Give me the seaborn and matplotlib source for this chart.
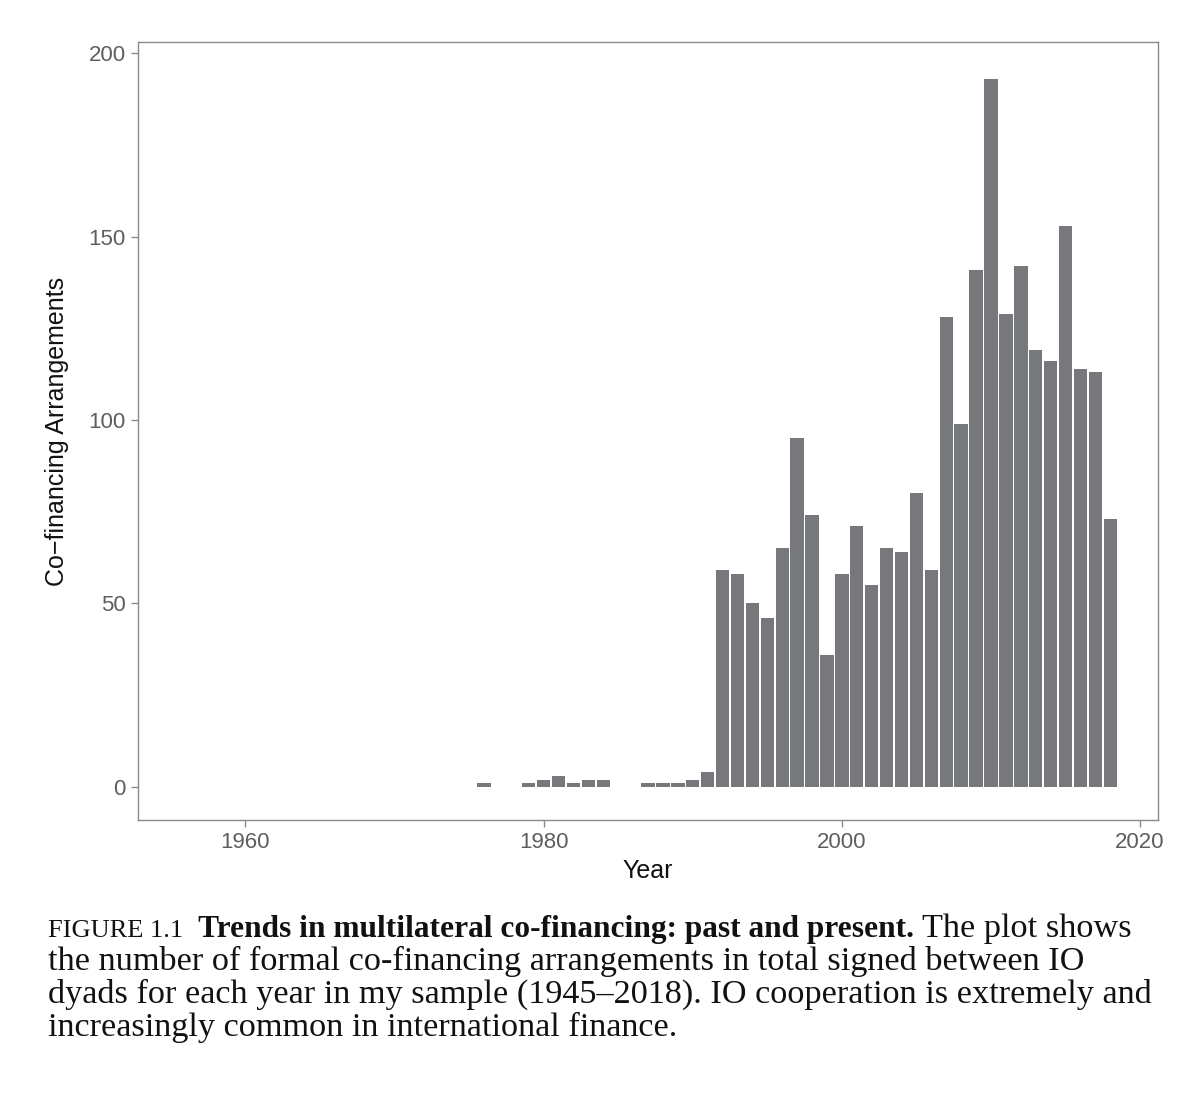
import matplotlib
matplotlib.use("Agg")
import matplotlib.pyplot as plt
import seaborn as sns
import pandas as pd

# Co-financing arrangements per year
years = [1976, 1979, 1980, 1981, 1982, 1983, 1984, 1987, 1988, 1989, 1990, 1991,
         1992, 1993, 1994, 1995, 1996, 1997, 1998, 1999, 2000, 2001, 2002, 2003,
         2004, 2005, 2006, 2007, 2008, 2009, 2010, 2011, 2012, 2013, 2014, 2015,
         2016, 2017, 2018]
counts = [1, 1, 2, 3, 1, 2, 2, 1, 1, 1, 2, 4,
          59, 58, 50, 46, 65, 95, 74, 36, 58, 71, 55, 65,
          64, 80, 59, 128, 99, 141, 193, 129, 142, 119, 116, 153,
          114, 113, 73]
x_ticks = [1960, 1980, 2000, 2020]
y_ticks = [0, 50, 100, 150, 200]

caption_lines = [
    "the number of formal co-financing arrangements in total signed between IO",
    "dyads for each year in my sample (1945\u20132018). IO cooperation is extremely and",
    "increasingly common in international finance.",
]

df = pd.DataFrame({"Year": years, "Count": counts})

BAR = "#77787b"
FRAME = "#8a8a8a"
TICKTXT = "#5e5e5e"

sns.set_style("white")
plt.rcParams["font.family"] = ["Liberation Sans", "DejaVu Sans"]

fig = plt.figure(figsize=(12, 10.98), dpi=100)
ax = fig.add_axes([0.115, 0.2532, 0.85, 0.7085])

sns.barplot(data=df, x="Year", y="Count", native_scale=True, color=BAR,
            saturation=1, errorbar=None, width=0.9, linewidth=0, ax=ax)

ax.set_xlim(1952.8, 2021.2)
ax.set_ylim(-9, 203)
ax.set_xticks(x_ticks)
ax.set_yticks(y_ticks)
ax.tick_params(axis="both", which="major", length=5, width=1, color=FRAME,
               labelsize=16, labelcolor=TICKTXT, pad=4, direction="out",
               bottom=True, left=True)
for s in ax.spines.values():
    s.set_visible(True)
    s.set_color(FRAME)
    s.set_linewidth(1)
ax.grid(False)
ax.set_xlabel("Year", fontsize=18, color="#111111", labelpad=4)
ax.set_ylabel("Co\u2212financing Arrangements", fontsize=18, color="#111111", labelpad=14)

# caption
serif = ["Liberation Serif", "DejaVu Serif"]
x0 = 48 / 1200
fs = 24.7
y1 = 1 - 937 / 1098
t1 = fig.text(x0, y1, "FIGURE 1.1", family=serif, fontsize=19,
              va="baseline", ha="left", color="#111111")
t2 = fig.text(0, 0, "  Trends in multilateral co-financing: past and present.",
              family=serif, fontsize=22.6, fontweight="bold", va="baseline",
              ha="left", color="#111111")
t3 = fig.text(0, 0, " The plot shows", family=serif, fontsize=fs,
              va="baseline", ha="left", color="#111111")
fig.canvas.draw()
r = fig.canvas.get_renderer()
inv = fig.transFigure.inverted()
bb1 = t1.get_window_extent(r)
t2.set_position((inv.transform((bb1.x1, 0))[0], y1))
bb2 = t2.get_window_extent(r)
t3.set_position((inv.transform((bb2.x1, 0))[0], y1))

for i, line in enumerate(caption_lines):
    fig.text(x0, 1 - (970 + 33 * i) / 1098, line, family=serif, fontsize=fs,
             va="baseline", ha="left", color="#111111")

fig.savefig("out.png", dpi=100)
